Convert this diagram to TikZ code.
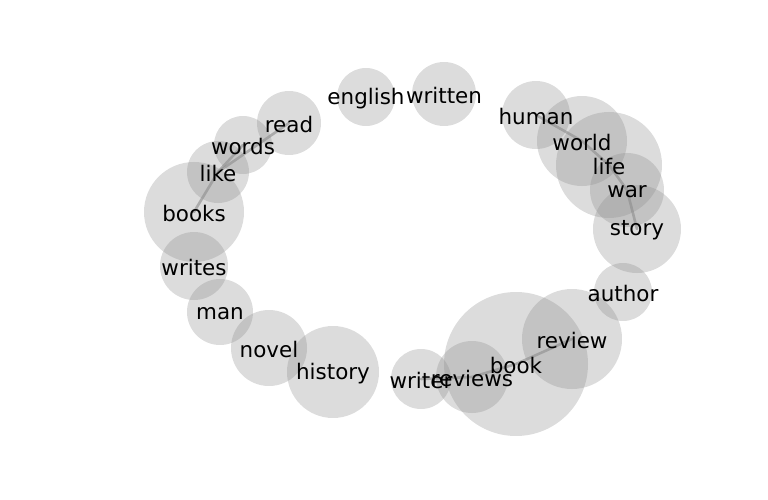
\documentclass[tikz,border=0pt]{standalone}
\usepackage{fontspec}
\setmainfont{DejaVu Sans}
\usepackage{tikz}
\usetikzlibrary{calc}
\tikzset{blob/.style={circle,fill=black!46,fill opacity=0.3,inner sep=0pt},
  word/.style={font=\fontsize{30.5}{36}\selectfont,inner sep=0pt,yshift=-0.8mm},
  tie/.style={draw=black!45,opacity=0.6,line width=1.3mm}}

\begin{document}
\begin{tikzpicture}[x=0.5mm,y=-0.5mm,line cap=round]
\useasboundingbox (0,0) rectangle (768,500);
% --- bubbles (diameter in mm = radius in px)
\node[blob,minimum size=32mm] (read) at (289,123) {};
\node[blob,minimum size=29mm] (words) at (243,145) {};
\node[blob,minimum size=31mm] (like) at (218,172) {};
\node[blob,minimum size=50mm] (books) at (194,212) {};
\node[blob,minimum size=34mm] (writes) at (194,266) {};
\node[blob,minimum size=33mm] (man) at (220,312) {};
\node[blob,minimum size=38mm] (novel) at (269,348) {};
\node[blob,minimum size=46mm] (history) at (333,372) {};
\node[blob,minimum size=30mm] (writer) at (421,379) {};
\node[blob,minimum size=36mm] (reviews) at (472,377) {};
\node[blob,minimum size=72mm] (book) at (516,364) {};
\node[blob,minimum size=50mm] (review) at (572,339) {};
\node[blob,minimum size=29mm] (author) at (623,292) {};
\node[blob,minimum size=44mm] (story) at (637,229) {};
\node[blob,minimum size=37mm] (war) at (627,190) {};
\node[blob,minimum size=53mm] (life) at (609,165) {};
\node[blob,minimum size=45mm] (world) at (582,141) {};
\node[blob,minimum size=34mm] (human) at (536,115) {};
\node[blob,minimum size=29mm] (english) at (366,97) {};
\node[blob,minimum size=32mm] (written) at (444,94) {};
% --- links
\draw[tie] (books.center) -- (like.center) -- (words.center);
\draw[tie] (like.center) -- (read.center);
\draw[tie] (human.center) -- (world.center) -- (life.center) -- (war.center) -- (story.center);
\draw[tie] (writer.center) -- (reviews.center) -- (book.center) -- (review.center);
% --- labels
\foreach \w in {read,words,like,books,writes,man,novel,history,writer,reviews,
  book,review,author,story,war,life,world,human,english,written}
  \node[word] (\w-t) at (\w) {\w};
\end{tikzpicture}
\end{document}
